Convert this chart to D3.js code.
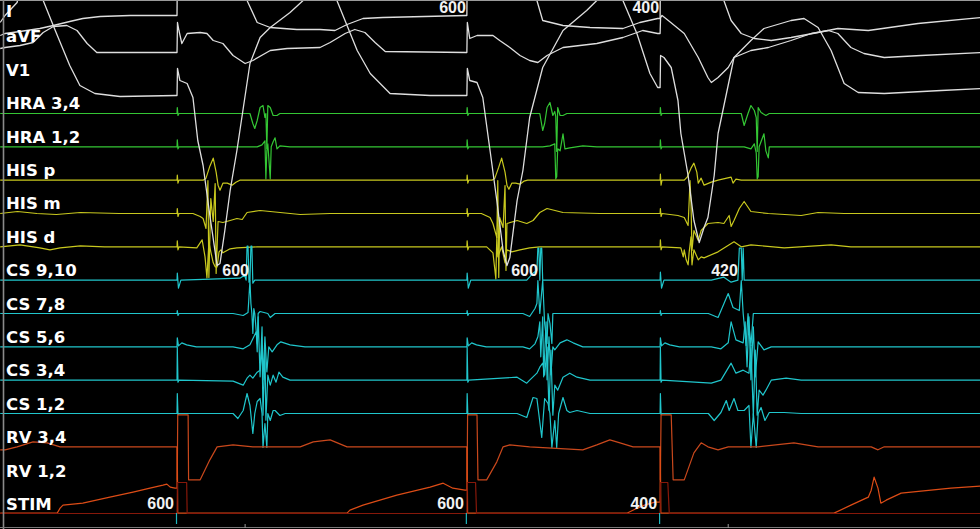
<!DOCTYPE html>
<html><head><meta charset="utf-8">
<script src="https://cdn.jsdelivr.net/npm/d3@7"></script>
<style>html,body{margin:0;padding:0;background:#000;overflow:hidden}</style>
</head><body>
<svg id="c" width="980" height="529"></svg>
<script>
// ---------- data ----------
const channelNames = ["I","aVF","V1","HRA 3,4","HRA 1,2","HIS p","HIS m","HIS d","CS 9,10","CS 7,8","CS 5,6","CS 3,4","CS 1,2","RV 3,4","RV 1,2","STIM"];
const stimTimes = [0, 600, 1000];            // ms, pacing stimuli
const stimIntervals = [600, 600, 400];       // labels at bottom
const topIntervals = [null, 600, 400];       // labels at top
const csActivation = [147, 745, 1159];       // ms, CS 9,10 activation
const csIntervals = [600, 600, 420];
const secondTicks = [141, 1141];

// each trace: [pre (absolute ms), beat1, beat2, beat3 (ms after each stimulus)], amplitude in display units
const trI = [
  [[-366,-20],[-356,-18],[-325,-16],[-284,-13],[-256,-10],[-222,-6],[-195,-3],[-159,-1],[-97,0],[-2,0]],
  [[0,0],[1,55],[48,95],[110,55],[145,15],[166,-7],[193,-12],[248,-14],[296,-14],[327,-15],[352,-9],[385,-3],[426,-2],[598,0]],
  [[0,0],[1,55],[48,95],[110,55],[145,15],[157,-5],[199,-10],[255,-12],[323,-13],[358,-7],[395,-3]],
  [[0,-3],[1,55],[48,95],[110,55],[132,15],[147,-5],[168,-18],[195,-23],[230,-25],[271,-22],[327,-17],[368,-13],[431,-15],[534,-8],[664,-2]]
];
const trAVF = [
  [[-366,4],[-356,5],[-325,7],[-298,10],[-277,20],[-256,26],[-228,27],[-207,22],[-186,9],[-166,0],[-2,0]],
  [[0,0],[1,30],[4,22],[10,9],[21,19],[48,20],[62,19],[75,12],[95,9],[116,-3],[141,-11],[157,-8],[193,2],[228,4],[296,5],[317,10],[348,19],[368,23],[389,20],[410,10],[431,1],[598,0]],
  [[0,0],[1,30],[6,14],[21,17],[54,17],[68,12],[89,5],[110,-3],[130,-8],[147,-10],[166,-3],[199,5],[269,9],[323,15],[364,22],[395,19]],
  [[0,19],[1,35],[4,37],[17,32],[50,19],[79,-5],[99,-25],[106,-30],[120,-25],[141,-15],[153,-5],[188,2],[224,5],[271,12],[313,19],[348,22],[368,19],[395,5],[422,-1],[464,-5],[540,-3],[664,0]]
];
const trV1 = [
  [[-366,73],[-356,80],[-331,93],[-320,118],[-300,125],[-284,108],[-277,95],[-252,65],[-222,30],[-201,10],[-170,2],[-118,-1],[-2,0]],
  [[0,0],[1,27],[6,15],[21,12],[33,-2],[43,-45],[54,-70],[68,-120],[83,-170],[89,-168],[99,-135],[110,-95],[124,-55],[151,32],[172,58],[193,68],[234,83],[261,95],[292,125],[317,115],[331,95],[373,45],[400,22],[441,2],[524,0],[598,0]],
  [[0,0],[1,27],[6,15],[21,13],[33,-2],[48,-55],[62,-105],[75,-155],[83,-170],[89,-162],[104,-105],[116,-75],[130,-22],[157,28],[199,65],[248,85],[269,95],[290,120],[311,115],[323,95],[352,62],[379,22],[395,8]],
  [[0,8],[1,40],[8,38],[23,28],[37,-5],[43,-38],[58,-80],[70,-125],[81,-147],[91,-132],[99,-122],[112,-80],[120,-38],[153,38],[188,55],[215,67],[271,75],[298,77],[327,68],[354,45],[381,12],[410,3],[464,2],[582,5],[664,7]]
];
const trHRA34 = [
  [[-366,0]],
  [[0,0],[0.6,6],[2,-2],[4,0],[151,0],[157,-10],[161,-15],[166,-7],[172,6],[178,8],[182,-4],[184,0],[186,-35],[188,8],[193,6],[199,-2],[207,-2],[213,0]],
  [[0,0],[0.6,6],[2,-2],[4,0],[151,0],[157,-17],[161,-10],[166,6],[172,11],[178,-2],[182,2],[184,-3],[186,-38],[188,6],[193,-2],[199,-2],[207,0]],
  [[0,0],[0.6,6],[2,-2],[4,0],[168,0],[174,-12],[182,0],[188,8],[195,3],[199,-4],[201,-38],[203,6],[209,1],[219,-2],[226,0],[664,0]]
];
const trHRA12 = [
  [[-366,0]],
  [[0,0],[0.6,7],[2,-2],[4,0],[166,0],[176,2],[182,6],[184,-32],[186,-4],[188,3],[193,-32],[195,0],[199,5],[203,9],[207,-2],[213,1],[234,0]],
  [[0,0],[0.6,7],[2,-2],[4,0],[157,0],[172,1],[182,3],[184,-32],[186,-30],[188,-2],[193,-4],[199,13],[203,-2],[213,-1],[240,1],[269,0]],
  [[0,0],[0.6,7],[2,-2],[4,0],[174,0],[188,-2],[195,3],[199,-6],[201,-32],[203,-30],[205,0],[215,13],[219,-4],[224,-11],[226,0],[244,0],[664,0]]
];
const trHISp = [
  [[-366,0]],
  [[0,0],[0.6,5],[2,-3],[4,0],[54,0],[60,2],[68,14],[75,22],[81,8],[85,-5],[89,-10],[95,-3],[104,-3],[114,-5],[122,-2],[130,0]],
  [[0,0],[0.6,5],[2,-3],[4,0],[52,0],[58,2],[66,13],[72,22],[79,8],[83,-5],[87,-9],[93,-3],[101,-3],[110,-4],[118,-1],[126,0]],
  [[0,0],[0.6,6],[2,-5],[4,0],[50,0],[56,3],[64,12],[70,17],[76,8],[79,-3],[85,2],[91,-5],[106,-2],[120,0],[147,3],[151,-3],[157,1],[168,0],[664,0]]
];
const trHISm = [
  [[-366,0],[-330,2],[-290,0],[-250,-1],[-200,1],[-120,0]],
  [[0,0],[0.6,5],[2,-3],[4,0],[33,0],[48,-3],[54,-5],[60,-15],[64,33],[66,-64],[70,15],[75,-8],[79,30],[81,-60],[85,-8],[95,-9],[110,-7],[124,-5],[135,-6],[145,1],[172,3],[255,-1],[317,0]],
  [[0,0],[0.6,5],[2,-3],[4,0],[30,0],[48,-4],[54,-10],[62,-24],[64,33],[66,-64],[68,-4],[75,-14],[79,28],[81,-57],[83,-10],[104,-7],[124,-10],[137,-7],[151,1],[166,5],[199,1],[275,0]],
  [[0,0],[0.6,5],[2,-3],[4,0],[37,-2],[50,-4],[58,-12],[62,33],[64,10],[66,-37],[70,-17],[79,-27],[85,-17],[99,-10],[120,-9],[132,-10],[143,-2],[147,-13],[153,-7],[164,5],[174,12],[188,2],[224,0],[292,-2],[327,1],[381,0],[664,0]]
];
const trHISd = [
  [[-366,0],[-325,2],[-284,-1],[-263,-3],[-242,-1],[-200,1],[-150,0]],
  [[0,0],[0.6,6],[2,-3],[4,0],[41,-1],[52,7],[58,-10],[62,-31],[66,5],[70,-5],[75,-16],[79,-20],[83,-20],[87,-5],[91,-3],[95,-6],[110,-2],[124,-1],[166,0]],
  [[0,0],[0.6,6],[2,-3],[4,0],[41,0],[54,-6],[58,-23],[60,-32],[62,10],[64,-10],[72,0],[79,-16],[83,-3],[93,-5],[110,-3],[130,-1],[151,0]],
  [[0,0],[0.6,7],[2,-3],[4,0],[43,-1],[48,-10],[50,-3],[54,-13],[58,-18],[60,-6],[64,10],[66,-18],[70,-3],[79,-13],[85,-10],[91,-11],[120,-5],[153,5],[168,0],[188,2],[257,-1],[354,2],[395,0],[664,0]]
];
const trCS910 = [
  [[-366,0]],
  [[0,0],[0.6,7],[3,-8],[8,0],[130,2],[140,5],[143,0],[145,34],[147,34],[149,-2],[151,0],[153,34],[155,34],[157,-3],[161,0]],
  [[0,0],[0.6,7],[3,-8],[8,0],[124,0],[137,7],[145,10],[147,32],[149,32],[151,0],[153,32],[155,32],[157,0]],
  [[0,0],[0.6,8],[3,-8],[8,0],[106,0],[132,3],[147,-2],[161,0],[164,32],[168,32],[170,0],[172,32],[174,0],[664,0]]
];
const trCS78 = [
  [[-366,0]],
  [[0,0],[0.6,3],[2,-2],[4,0],[116,0],[137,-2],[147,1],[151,33],[153,10],[155,0],[157,-20],[159,5],[161,0],[166,-30],[168,0],[172,2],[188,0],[193,-4],[203,0]],
  [[0,0],[0.6,3],[2,-2],[4,0],[116,0],[130,-3],[141,5],[145,10],[147,33],[151,0],[157,33],[161,-10],[166,-30],[168,0],[172,-10],[176,-30],[178,0]],
  [[0,0],[0.6,3],[2,-2],[4,0],[100,0],[110,-2],[120,-4],[141,20],[151,6],[164,3],[168,33],[172,0],[178,-32],[182,0],[188,-32],[193,0],[664,0]]
];
const trCS56 = [
  [[-366,0]],
  [[0,0],[0.6,9],[3,1],[10,4],[20,2],[40,0],[116,0],[137,-2],[151,2],[157,8],[164,15],[166,-5],[168,30],[172,-30],[176,20],[178,-33],[182,10],[186,-25],[190,0],[197,-5],[207,2],[215,5],[234,2],[265,0]],
  [[0,0],[0.6,9],[3,1],[10,4],[20,2],[40,0],[116,0],[130,-2],[141,3],[147,10],[151,25],[153,-10],[157,30],[159,-30],[164,25],[166,-33],[170,10],[174,-28],[178,0],[182,-3],[193,4],[207,7],[220,4],[240,0]],
  [[0,0],[0.6,9],[3,1],[10,4],[20,2],[40,0],[106,0],[126,-2],[141,4],[147,25],[157,7],[172,4],[176,25],[180,-20],[184,30],[188,-33],[193,20],[197,-30],[203,5],[215,-3],[230,0],[664,0]]
];
const trCS34 = [
  [[-366,0]],
  [[0,0],[0.6,33],[2,-2],[4,0],[116,-1],[137,-5],[145,2],[151,5],[157,2],[166,8],[172,10],[176,35],[178,-35],[182,30],[184,-40],[188,5],[193,-5],[199,5],[205,-2],[211,8],[219,3],[234,0]],
  [[0,0],[0.6,33],[2,-2],[4,0],[104,3],[124,-3],[130,0],[145,7],[151,13],[157,17],[161,5],[166,33],[170,-30],[174,30],[178,-35],[182,-5],[188,-10],[199,3],[213,7],[228,3],[255,0]],
  [[0,0],[0.6,33],[2,-2],[4,0],[106,-3],[126,0],[147,17],[157,7],[172,10],[184,7],[188,35],[193,-35],[197,30],[201,-35],[205,-10],[213,-15],[219,-10],[230,0],[261,2],[292,0],[664,0]]
];
const trCS12 = [
  [[-366,0]],
  [[0,0],[0.6,20],[2,-1],[4,0],[116,0],[126,-5],[137,3],[145,20],[151,8],[157,-20],[161,0],[166,12],[172,15],[176,0],[178,-34],[182,-10],[186,-34],[188,0],[193,-7],[199,3],[203,3],[213,-2],[224,0]],
  [[0,0],[0.6,20],[2,-1],[4,0],[104,0],[124,-4],[137,16],[145,15],[155,-24],[161,15],[168,10],[172,0],[176,-34],[182,-7],[186,-34],[190,0],[199,16],[207,3],[213,1],[228,3],[255,0]],
  [[0,0],[0.6,20],[2,-1],[4,0],[100,0],[112,-7],[126,1],[137,13],[143,3],[153,15],[161,3],[174,3],[184,8],[188,-34],[193,0],[199,-34],[203,0],[209,6],[217,-7],[226,1],[257,1],[292,0],[664,0]]
];
const trRV34 = [
  [[-366,-3],[-356,-3],[-331,0],[-298,5],[-269,4],[-242,0],[-4,0]],
  [[0,0],[0.5,-33],[1.5,32],[23,32],[24,-33],[48,-33],[68,-13],[83,0],[116,2],[157,0],[255,0],[282,5],[317,7],[352,0],[598,0]],
  [[0,0],[0.5,-33],[1.5,32],[21,32],[23,-33],[41,-33],[62,-15],[75,0],[89,2],[130,0],[240,-3],[269,2],[296,7],[317,4],[344,0],[394,0]],
  [[0,0],[0.5,-33],[2,32],[23,32],[27,-33],[50,-33],[70,-6],[85,4],[99,0],[120,-3],[141,0],[203,0],[277,4],[327,0],[437,0],[451,-3],[464,0],[664,0]]
];
const trRV12 = [
  [[-366,-33],[-248,-33],[-242,-28],[-236,-25],[-195,-23],[-139,-17],[-91,-12],[-56,-8],[-29,-5],[-21,-4],[-14,-7],[-4,-8]],
  [[0,-8],[0.5,33],[1.5,-33],[352,-33],[358,-30],[385,-25],[455,-15],[524,-7],[551,-3],[571,-8],[596,-10]],
  [[0,-10],[0.5,33],[1.5,-33],[331,-33],[348,-29],[368,-25],[389,-22]],
  [[0,-22],[0.5,33],[1.5,-33],[360,-33],[395,-25],[431,-17],[437,-10],[443,3],[451,-8],[457,-23],[468,-20],[499,-13],[540,-11],[602,-8],[664,-6]]
];
const trSTIM = [
  [[-366,0]],
  [[0,0],[1,31],[20,31],[21,0]],
  [[0,0],[1,31],[18,31],[20,0]],
  [[0,0],[1,31],[16,31],[19,0],[664,0]]
];

// ---------- layout / style ----------
const W = 980, H = 529;
const traces = {"I":trI,"aVF":trAVF,"V1":trV1,"HRA 3,4":trHRA34,"HRA 1,2":trHRA12,"HIS p":trHISp,"HIS m":trHISm,"HIS d":trHISd,
  "CS 9,10":trCS910,"CS 7,8":trCS78,"CS 5,6":trCS56,"CS 3,4":trCS34,"CS 1,2":trCS12,"RV 3,4":trRV34,"RV 1,2":trRV12,"STIM":trSTIM};
const surfaceBase = {"I":15,"aVF":52,"V1":95};
const icBase = d3.scalePoint().domain(channelNames.slice(3)).range([113, 513]);
const baseOf = n => (n in surfaceBase) ? surfaceBase[n] : icBase(n);
const labelY = d3.scalePoint().domain(channelNames).range([9, 510]);
const colorOf = n => n in surfaceBase ? "#dedede"
  : n.startsWith("HRA") ? "#34c634"
  : n.startsWith("HIS") ? "#c8c81e"
  : n.startsWith("CS") ? "#20c6cc"
  : n === "RV 3,4" ? "#c9481c"
  : n === "RV 1,2" ? "#dc4c16" : "#86180a";

const x = d3.scaleLinear().domain([-366.4, 1662.2]).range([0, W]);

const svg = d3.select("#c");
svg.append("rect").attr("width", W).attr("height", H).attr("fill", "#000");

function assemble(tr){
  const pts = tr[0].slice();
  stimTimes.forEach((s, i) => tr[i+1].forEach(([t, a]) => pts.push([s + t, a])));
  return pts;
}

const drawOrder = channelNames.slice(3).concat(["I","aVF","V1"]);
const gTr = svg.append("g");
drawOrder.forEach(n => {
  const b = baseOf(n) + 0.5;
  const y = d3.scaleLinear().domain([0, 1]).range([b, b - 1]);
  const line = d3.line().x(d => x(d[0])).y(d => y(d[1]));
  gTr.append("path")
    .attr("d", line(assemble(traces[n])))
    .attr("fill", "none")
    .attr("stroke", colorOf(n))
    .attr("stroke-width", n in surfaceBase ? 1.3 : 1.2)
    .attr("stroke-linejoin", "round");
});

// stimulus markers below STIM
svg.append("g").selectAll("line").data(stimTimes).join("line")
  .attr("x1", d => x(d) - 0.5).attr("x2", d => x(d) - 0.5)
  .attr("y1", 513).attr("y2", 524)
  .attr("stroke", "#1fb8c0").attr("stroke-width", 1.2);

// frame
svg.append("line").attr("x1", 0).attr("x2", W).attr("y1", 0.5).attr("y2", 0.5).attr("stroke", "#9a9a9a");
svg.append("line").attr("x1", 3.5).attr("x2", 3.5).attr("y1", 0).attr("y2", H).attr("stroke", "#8a8a8a").attr("stroke-width", 1.6);
svg.append("line").attr("x1", 0).attr("x2", W).attr("y1", 527.5).attr("y2", 527.5).attr("stroke", "#7a7a7a");
svg.append("g").selectAll("line").data(secondTicks).join("line")
  .attr("x1", d => x(d)).attr("x2", d => x(d)).attr("y1", 524).attr("y2", 528)
  .attr("stroke", "#9a9a9a");

// channel labels
svg.append("g").selectAll("text").data(channelNames).join("text")
  .attr("x", 6).attr("y", d => d === "I" ? 17 : labelY(d))
  .attr("fill", "#ffffff")
  .attr("font-family", "'DejaVu Sans', Verdana, sans-serif")
  .attr("font-weight", "bold").attr("font-size", 16.5)
  .text(d => d);

// interval numbers
const numFont = "'Liberation Sans', Arial, sans-serif";
const gNum = svg.append("g").attr("font-family", numFont).attr("font-weight", "bold")
  .attr("font-size", 16).attr("fill", "#f2f2f2").attr("text-anchor", "end");
gNum.selectAll("text.b").data(stimTimes.map((s, i) => ({s, v: stimIntervals[i]}))).join("text")
  .attr("class", "b").attr("x", d => x(d.s) - 3).attr("y", 509).text(d => d.v);
gNum.selectAll("text.t").data(stimTimes.map((s, i) => ({s, v: topIntervals[i]})).filter(d => d.v !== null)).join("text")
  .attr("class", "t").attr("x", d => x(d.s) - 1).attr("y", 13).text(d => d.v);
gNum.selectAll("text.c").data(csActivation.map((s, i) => ({s, v: csIntervals[i]}))).join("text")
  .attr("class", "c").attr("x", d => x(d.s) + 1).attr("y", 276).text(d => d.v);
</script>
</body></html>
